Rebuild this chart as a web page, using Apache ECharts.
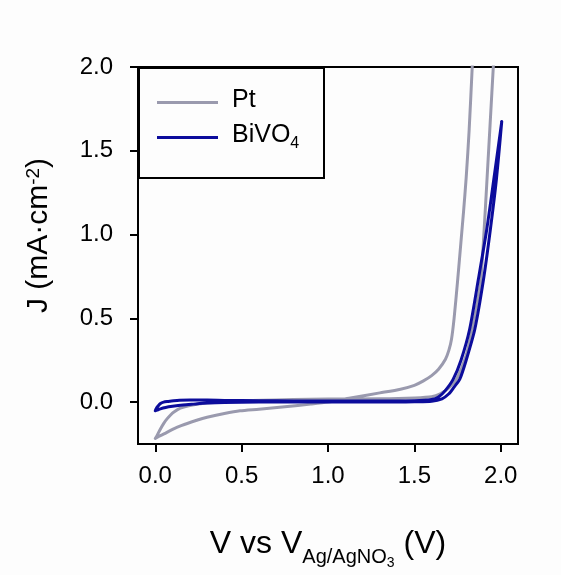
<!DOCTYPE html>
<html><head><meta charset="utf-8">
<script src="https://cdn.jsdelivr.net/npm/echarts@6/dist/echarts.min.js"></script>
<style>html,body{margin:0;padding:0;background:#fdfdfd}#c{width:561px;height:575px}</style>
</head><body><div id="c"></div>
<script>
// Pt cyclic voltammogram (one continuous path; clipped at the top of the plot)
const ptV = [1.84, 1.835, 1.817, 1.80, 1.785, 1.77, 1.75, 1.73, 1.715, 1.70, 1.68, 1.64, 1.60, 1.55, 1.50, 1.42, 1.30, 1.13, 1.0, 0.9, 0.75, 0.6, 0.49, 0.4, 0.3, 0.24, 0.15, 0.1, 0.05, 0.02, 0.0,
             0.01, 0.03, 0.05, 0.068, 0.09, 0.106, 0.145, 0.2, 0.3, 0.5, 0.8, 1.0, 1.3, 1.5, 1.6, 1.65, 1.7, 1.744, 1.8, 1.835, 1.865, 1.885, 1.904, 1.919, 1.957, 1.962];
const ptJ = [2.1, 2.0, 1.62, 1.34, 1.14, 0.96, 0.72, 0.50, 0.375, 0.31, 0.256, 0.196, 0.158, 0.125, 0.10, 0.077, 0.055, 0.025, 0.0, -0.012, -0.027, -0.042, -0.052, -0.068, -0.09, -0.108, -0.14, -0.163, -0.19, -0.205, -0.217,
             -0.2, -0.16, -0.125, -0.10, -0.075, -0.06, -0.036, -0.02, -0.006, 0.008, 0.015, 0.018, 0.02, 0.025, 0.032, 0.05, 0.085, 0.137, 0.28, 0.435, 0.6, 0.73, 1.03, 1.30, 2.0, 2.1];
// BiVO4 cyclic voltammogram
const biV = [0.0, 0.01, 0.03, 0.06, 0.1, 0.16, 0.22, 0.3, 0.4, 0.6, 0.8, 1.0, 1.2, 1.4, 1.5, 1.6, 1.66, 1.7, 1.73, 1.763, 1.80, 1.85, 1.90, 1.94, 1.975, 2.006,
             1.96, 1.919, 1.87, 1.82, 1.77, 1.725, 1.68, 1.64, 1.6, 1.5, 1.2, 1.0, 0.8, 0.6, 0.4, 0.3, 0.2, 0.14, 0.106, 0.075, 0.048, 0.03, 0.015, 0.005, 0.0];
const biJ = [-0.052, -0.048, -0.04, -0.032, -0.025, -0.017, -0.012, -0.006, -0.002, 0.0, 0.0, 0.0, 0.0, 0.001, 0.002, 0.005, 0.02, 0.05, 0.09, 0.137, 0.25, 0.435, 0.73, 1.03, 1.33, 1.675,
             1.33, 1.03, 0.73, 0.435, 0.25, 0.137, 0.07, 0.03, 0.015, 0.008, 0.006, 0.006, 0.007, 0.008, 0.01, 0.012, 0.012, 0.011, 0.008, 0.004, 0.0, -0.008, -0.025, -0.04, -0.052];
const seriesNames = ['Pt', 'BiVO4'];
const xTicks = [0.0, 0.5, 1.0, 1.5, 2.0];
const yTicks = [0.0, 0.5, 1.0, 1.5, 2.0];

const FONT = '"Liberation Sans", Arial, sans-serif';
const PT_COLOR = '#9a9aae';
const BI_COLOR = '#0c0c9c';
const pair = (xs, ys) => xs.map((v, i) => [v, ys[i]]);

const chart = echarts.init(document.getElementById('c'), null, {renderer: 'canvas'});
chart.setOption({
  backgroundColor: '#fdfdfd',
  animation: false,
  textStyle: {fontFamily: FONT},
  grid: {left: 138, right: 43, top: 67, bottom: 130, show: true, borderColor: '#000', borderWidth: 2, backgroundColor: 'transparent'},
  graphic: [{
    type: 'rect', left: 138, top: 67, z: 1,
    shape: {width: 185, height: 110},
    style: {fill: '#fdfdfd', stroke: '#000', lineWidth: 2}
  }],
  legend: {
    data: [{name: seriesNames[0], itemStyle: {color: PT_COLOR}}, {name: seriesNames[1], itemStyle: {color: BI_COLOR}}],
    orient: 'vertical', left: 157, top: 88, z: 10, padding: 0,
    icon: 'rect', itemWidth: 61, itemHeight: 3, itemGap: 10,
    formatter: n => n === 'BiVO4' ? '{n|BiVO}{s|4}' : '{n|' + n + '}',
    textStyle: {
      fontFamily: FONT, color: '#000', padding: [0, 0, 0, 9],
      rich: {
        n: {fontSize: 25, fontFamily: FONT, color: '#000', verticalAlign: 'bottom', padding: [0, 0, 4, 0]},
        s: {fontSize: 16, fontFamily: FONT, color: '#000', verticalAlign: 'bottom'}
      }
    }
  },
  xAxis: {
    type: 'value', min: -0.1, max: 2.1,
    name: '{a|V vs V}{b|Ag/AgNO}{c|3}{a| (V)}',
    nameLocation: 'middle', nameGap: 84,
    nameTextStyle: {
      rich: {
        a: {fontSize: 32, fontFamily: FONT, color: '#000', verticalAlign: 'bottom', padding: [0, 0, 10, 0]},
        b: {fontSize: 20, fontFamily: FONT, color: '#000', verticalAlign: 'bottom', padding: [0, 0, 3, 0]},
        c: {fontSize: 14, fontFamily: FONT, color: '#000', verticalAlign: 'bottom'}
      }
    },
    axisLine: {onZero: false, lineStyle: {color: '#000', width: 2}},
    axisTick: {inside: false, length: 8, lineStyle: {color: '#000', width: 2}, customValues: xTicks},
    axisLabel: {customValues: xTicks, margin: 20, fontSize: 24, fontFamily: FONT, color: '#000', formatter: v => v.toFixed(1)},
    splitLine: {show: false}
  },
  yAxis: {
    type: 'value', min: -0.25, max: 2.0,
    name: '{a|J (mA·cm}{b|-2}{a|)}',
    nameLocation: 'middle', nameGap: 84, nameRotate: 90,
    nameTextStyle: {
      padding: [0, 0, 0, 40],
      rich: {
        a: {fontSize: 30, fontFamily: FONT, color: '#000', verticalAlign: 'bottom'},
        b: {fontSize: 19, fontFamily: FONT, color: '#000', verticalAlign: 'top'}
      }
    },
    axisLine: {onZero: false, lineStyle: {color: '#000', width: 2}},
    axisTick: {inside: false, length: 8, lineStyle: {color: '#000', width: 2}, customValues: yTicks},
    axisLabel: {customValues: yTicks, margin: 25, fontSize: 24, fontFamily: FONT, color: '#000', formatter: v => v.toFixed(1)},
    splitLine: {show: false}
  },
  series: [
    {name: seriesNames[0], type: 'line', data: pair(ptV, ptJ), symbol: 'none', smooth: 0.25, clip: true, z: 2,
     lineStyle: {color: PT_COLOR, width: 3, cap: 'round', join: 'round'}, itemStyle: {color: PT_COLOR}},
    {name: seriesNames[1], type: 'line', data: pair(biV, biJ), symbol: 'none', smooth: 0.25, clip: true, z: 3,
     lineStyle: {color: BI_COLOR, width: 3, cap: 'round', join: 'round'}, itemStyle: {color: BI_COLOR}}
  ]
});
</script></body></html>
